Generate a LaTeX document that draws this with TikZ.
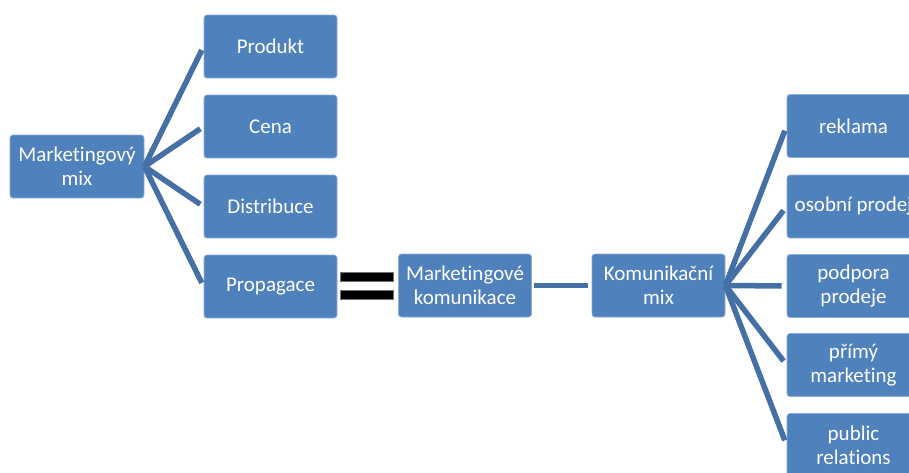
\documentclass[tikz,border=0pt]{standalone}
\usepackage{fontspec}
\setmainfont[Ligatures=NoCommon]{Carlito}
\usepackage{tikz}

\definecolor{boxblue}{HTML}{4F81BD}
\definecolor{linkblue}{HTML}{4470A6}

\tikzset{
  mixbox/.style={rectangle, rounded corners=3pt, fill=boxblue,
    draw=white!35!boxblue, line width=0.8pt, text=white, align=center,
    minimum width=133pt, minimum height=63pt, inner sep=2pt,
    font=\fontsize{21}{24}\selectfont},
  link/.style={draw=linkblue, line width=5.5pt},
  eqbar/.style={rectangle, fill=black, draw=black!55, line width=0.6pt,
    minimum width=53pt, minimum height=9pt, inner sep=0pt}
}

\begin{document}
\begin{tikzpicture}[x=1pt, y=-1pt]
    \useasboundingbox (0,0) rectangle (909,472);
    \clip (0,0) rectangle (909,472);

    % marketing mix and its four parts
    \node[mixbox, minimum width=134pt] (mix) at (77,166.5) {Marketingový\\mix};
    \node[mixbox] (produkt) at (270.5,46.5) {Produkt};
    \node[mixbox] (cena) at (270.5,126.5) {Cena};
    \node[mixbox] (distribuce) at (270.5,206.5) {Distribuce};
    \node[mixbox] (propagace) at (270.5,286.5) {Propagace};
    \foreach \part in {produkt,cena,distribuce,propagace}
      \draw[link, shorten >=4pt] (mix.east) -- (\part.west);

    % equals sign
    \node[eqbar] (eqtop) at (366.5,276.5) {};
    \node[eqbar] (eqbot) at (366.5,294.5) {};

    % communication mix
    \node[mixbox] (komunikace) at (465,285.5) {Marketingové\\komunikace};
    \node[mixbox] (kommix) at (658.5,285.5) {Komunikační\\mix};
    \draw[link, shorten <=2pt, shorten >=4pt] (komunikace.east) -- (kommix.west);

    \node[mixbox] (reklama) at (853.5,126) {reklama};
    \node[mixbox] (osobni) at (853.5,206.5) {osobní prodej};
    \node[mixbox] (podpora) at (853.5,286) {podpora\\prodeje};
    \node[mixbox] (primy) at (853.5,365) {přímý\\marketing};
    \node[mixbox] (pr) at (853.5,445) {public\\relations};
    \foreach \tool in {reklama,osobni,podpora,primy,pr}
      \draw[link, shorten >=5pt] (kommix.east) -- (\tool.west);
  \end{tikzpicture}
\end{document}
